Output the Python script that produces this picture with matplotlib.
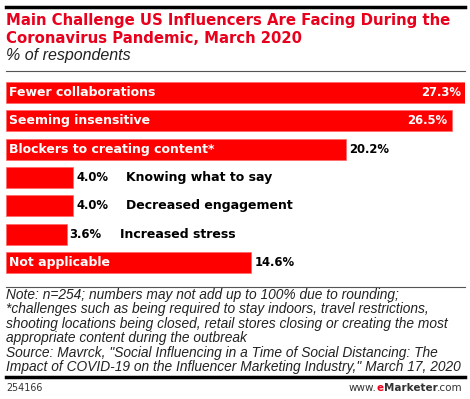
import matplotlib
matplotlib.use("Agg")
import matplotlib.pyplot as plt
from matplotlib.lines import Line2D

categories = ["Fewer collaborations", "Seeming insensitive", "Blockers to creating content*",
              "Knowing what to say", "Decreased engagement", "Increased stress", "Not applicable"]
values = [27.3, 26.5, 20.2, 4.0, 4.0, 3.6, 14.6]
value_labels = ["27.3%", "26.5%", "20.2%", "4.0%", "4.0%", "3.6%", "14.6%"]
inside = [True, True, True, False, False, False, True]
value_inside = [True, True, False, False, False, False, False]

W, H = 470, 399
fig = plt.figure(figsize=(W / 100, H / 100), dpi=100)
fig.patch.set_facecolor("white")

def fy(px):
    return 1 - px / H

def fx(px):
    return px / W

RED = "#ff0000"
FONT = "DejaVu Sans"

# top rule
fig.add_artist(Line2D([fx(6), fx(465)], [fy(7), fy(7)], color="black", lw=2.5))
fig.text(fx(6), fy(25), "Main Challenge US Influencers Are Facing During the",
         color="#e8001c", fontsize=10.75, fontweight="bold", family=FONT, va="baseline")
fig.text(fx(6), fy(43), "Coronavirus Pandemic, March 2020",
         color="#e8001c", fontsize=10.75, fontweight="bold", family=FONT, va="baseline")
fig.text(fx(6), fy(60), "% of respondents", color="#222222", fontsize=11.5,
         style="italic", family="Liberation Sans", va="baseline")
fig.add_artist(Line2D([fx(6), fx(465)], [fy(70.5), fy(70.5)], color="#555555", lw=0.8))

# bars axes
top_px, pitch = 78.35, 28.33
bot_px = top_px + pitch * len(values)
ax = fig.add_axes([fx(6), fy(bot_px), fx(465) - fx(6), (bot_px - top_px) / H])
ax.set_xlim(0, 27.3)
ax.set_ylim(len(values) - 0.5, -0.5)
ax.axis("off")
ypos = list(range(len(values)))
ax.barh(ypos, values, height=0.74, color=RED, edgecolor="#ff6666", linewidth=0.5)

for i, (v, lab, vl) in enumerate(zip(values, categories, value_labels)):
    fsv, fsl = 8.4, 9.0
    if value_inside[i]:
        ax.annotate(vl, (v, i), xytext=(-4, 0), textcoords="offset pixels",
                    ha="right", va="center", color="white", fontsize=fsv, fontweight="bold", family=FONT)
    else:
        ax.annotate(vl, (v, i), xytext=(3, 0), textcoords="offset pixels",
                    ha="left", va="center", color="black", fontsize=fsv, fontweight="bold", family=FONT)
    if inside[i]:
        ax.annotate(lab, (0, i), xytext=(3, 0), textcoords="offset pixels",
                    ha="left", va="center", color="white", fontsize=fsl, fontweight="bold", family=FONT)
    else:
        ax.annotate(lab, (v, i), xytext=(53, 0), textcoords="offset pixels",
                    ha="left", va="center", color="black", fontsize=fsl, fontweight="bold", family=FONT)

# notes
fig.add_artist(Line2D([fx(6), fx(465)], [fy(287), fy(287)], color="#555555", lw=0.8))
notes = ["Note: n=254; numbers may not add up to 100% due to rounding;",
         "*challenges such as being required to stay indoors, travel restrictions,",
         "shooting locations being closed, retail stores closing or creating the most",
         "appropriate content during the outbreak",
         "Source: Mavrck, \"Social Influencing in a Time of Social Distancing: The",
         "Impact of COVID-19 on the Influencer Marketing Industry,\" March 17, 2020"]
for k, line in enumerate(notes):
    fig.text(fx(6), fy(299 + k * 14.4), line, fontsize=9.9, style="italic",
             family="Liberation Sans", color="#222222", va="baseline")
fig.add_artist(Line2D([fx(6), fx(465)], [fy(377), fy(377)], color="black", lw=2.5))
fig.text(fx(6), fy(391), "254166", fontsize=6.9, family=FONT, color="#333333", va="baseline")

# www.eMarketer.com, built right-to-left
fig.canvas.draw()
renderer = fig.canvas.get_renderer()
parts = [(".com", "normal", "#333333"), ("Marketer", "bold", "#333333"),
         ("e", "bold", "#e8001c"), ("www.", "normal", "#333333")]
xr = 463
for txt, wt, col in parts:
    t = fig.text(fx(xr), fy(391), txt, fontsize=7.5, family=FONT, fontweight=wt,
                 color=col, va="baseline", ha="right")
    bb = t.get_window_extent(renderer)
    xr -= bb.width

fig.savefig("out.png", dpi=100, facecolor="white")
